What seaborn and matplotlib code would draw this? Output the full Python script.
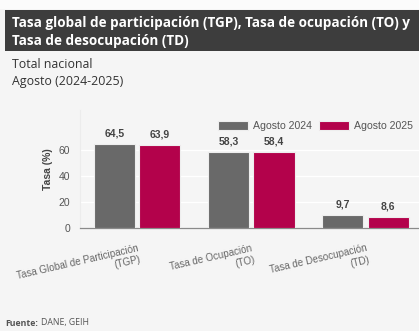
import matplotlib
matplotlib.use("Agg")
import matplotlib.pyplot as plt
import matplotlib.patches as mpatches
import seaborn as sns
import pandas as pd

# Indicadores del mercado laboral, total nacional, agosto 2024 vs 2025
categorias = ["Tasa Global de Participación\n(TGP)",
              "Tasa de Ocupación\n(TO)",
              "Tasa de Desocupación\n(TD)"]
periodos = ["Agosto 2024", "Agosto 2025"]
valores_2024 = [64.5, 58.3, 9.7]
valores_2025 = [63.9, 58.4, 8.6]
colores = ["#696969", "#b3024b"]
yticks = [0, 20, 40, 60]

df = pd.DataFrame({
    "Indicador": categorias * 2,
    "Periodo": [periodos[0]] * 3 + [periodos[1]] * 3,
    "Tasa": valores_2024 + valores_2025,
})

sns.set_theme(style="white")
plt.rcParams["font.family"] = ["Liberation Sans", "DejaVu Sans"]

W, H = 419, 331
fig = plt.figure(figsize=(W / 100, H / 100), dpi=100)
fig.patch.set_facecolor("#f5f5f5")

def px(x, y):
    return x / W, 1 - y / H

# Franja superior y encabezado oscuro
fig.add_artist(mpatches.Rectangle((0, 1 - 9 / H), 1, 9 / H, transform=fig.transFigure,
                                  facecolor="#fbfbfb", edgecolor="none", zorder=0))
fig.add_artist(mpatches.Rectangle((5 / W, 1 - 51 / H), 1 - 5 / W, 41 / H,
                                  transform=fig.transFigure, facecolor="#3d3d3d",
                                  edgecolor="none", zorder=1))

head_font = ["Open Sans", "DejaVu Sans"]
fig.text(*px(12, 23), "Tasa global de participación (TGP), Tasa de ocupación (TO) y",
         color="white", fontsize=9.75, fontweight="bold", family=head_font,
         va="center", ha="left", zorder=2)
fig.text(*px(12, 41), "Tasa de desocupación (TD)",
         color="white", fontsize=9.75, fontweight="bold", family=head_font,
         va="center", ha="left", zorder=2)
fig.text(*px(12, 64), "Total nacional", color="#333333", fontsize=8.9,
         family=head_font, va="center", ha="left")
fig.text(*px(12, 82), "Agosto (2024-2025)", color="#333333", fontsize=8.9,
         family=head_font, va="center", ha="left")
fig.text(*px(5, 323), "Fuente:", color="#555555", fontsize=6.3, fontweight="bold",
         family=head_font, va="center", ha="left")
fig.text(*px(41, 323), "DANE, GEIH", color="#555555", fontsize=6.3,
         family=head_font, va="center", ha="left")

# Área del gráfico
left, right, top, bottom = 80, 419, 110, 228
ax = fig.add_axes([left / W, 1 - bottom / H, (right - left) / W, (bottom - top) / H])
ax.set_facecolor("#f5f5f5")

sns.barplot(data=df, x="Indicador", y="Tasa", hue="Periodo", palette=colores,
            saturation=1, width=0.8, gap=0.1, ax=ax, edgecolor="#eeeeee",
            linewidth=0.8, zorder=3)

ax.set_ylim(0, (bottom - top) / 1.3)
ax.set_xlim(-0.5, 2.47)
ax.set_yticks(yticks)
ax.set_yticklabels([str(t) for t in yticks], color="#555555", fontsize=7.5)
ax.tick_params(axis="y", length=5, width=0.8, color="#888888", pad=2)
for i, t in enumerate(ax.yaxis.get_major_ticks()):
    if i != 0:
        t.tick1line.set_visible(False)
ax.grid(axis="y", color="white", linewidth=1.0, zorder=0)
ax.set_axisbelow(True)

for s in ["top", "right"]:
    ax.spines[s].set_visible(False)
ax.spines["left"].set_color("#ececec")
ax.spines["left"].set_linewidth(0.8)
ax.spines["bottom"].set_color("#8a8a8a")
ax.spines["bottom"].set_linewidth(0.9)

ax.set_xlabel("")
ax.set_ylabel("Tasa (%)", fontsize=7.5, fontweight="bold", color="#444444", labelpad=4)
ax.tick_params(axis="x", length=0, pad=11)
for lbl in ax.get_xticklabels():
    lbl.set_rotation(13)
    lbl.set_ha("right")
    lbl.set_multialignment("right")
    lbl.set_rotation_mode("anchor")
    lbl.set_fontsize(7.1)
    lbl.set_color("#666666")

for cont in ax.containers:
    ax.bar_label(cont, labels=[f"{v:.1f}".replace(".", ",") for v in cont.datavalues],
                 padding=4, fontsize=7.5, fontweight="bold", color="#444444")

leg = ax.legend(loc="center right", bbox_to_anchor=(0.995, (bottom - 126) / (bottom - top)),
                ncol=2, frameon=False, fontsize=7.6, handlelength=2.8, handleheight=1.0,
                columnspacing=0.7, handletextpad=0.5, borderaxespad=0)
for t in leg.get_texts():
    t.set_color("#555555")

fig.savefig("out.png", dpi=100, facecolor=fig.get_facecolor())
